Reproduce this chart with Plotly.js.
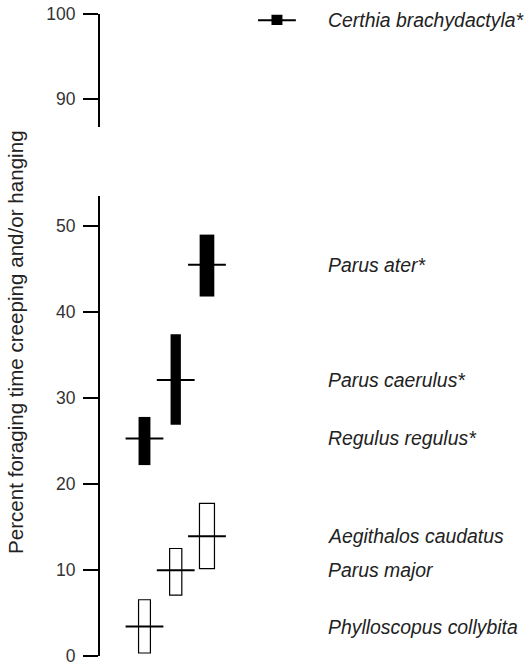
<!DOCTYPE html>
<html>
<head>
<meta charset="utf-8">
<script src="https://cdn.plot.ly/plotly-3.0.1.min.js"></script>
<style>html,body{margin:0;padding:0;background:#fff;}#chart{width:525px;height:663px;}</style>
</head>
<body>
<div id="chart"></div>
<script>
// ---- data ----
const species = ['Phylloscopus collybita', 'Parus major', 'Aegithalos caudatus',
                 'Regulus regulus*', 'Parus caerulus*', 'Parus ater*', 'Certhia brachydactyla*'];
const column  = [1, 2, 3, 1, 2, 3, 5.24];
const lowVal  = [0.35, 7.08, 10.15, 22.2, 26.9, 41.8, 98.7];
const highVal = [6.54, 12.5, 17.75, 27.8, 37.4, 49.0, 99.9];
const meanVal = [3.43, 9.97, 13.93, 25.3, 32.1, 45.5, 99.25];
const significant = [false, false, false, true, true, true, true];
const lowerTicks = [0, 10, 20, 30, 40, 50];
const upperTicks = [90, 100];

// ---- build traces ----
const barWidths = [0.38, 0.39, 0.48, 0.38, 0.33, 0.47, 0.35];
const traces = [];
const openIdx = [], fillIdx = [], upIdx = [];
species.forEach((s, i) => {
  if (meanVal[i] > 60) upIdx.push(i);
  else if (significant[i]) fillIdx.push(i);
  else openIdx.push(i);
});
function barTrace(idx, filled, yaxis) {
  return {
    type: 'bar',
    x: idx.map(i => column[i]),
    base: idx.map(i => lowVal[i]),
    y: idx.map(i => highVal[i] - lowVal[i]),
    width: idx.map(i => barWidths[i]),
    yaxis: yaxis,
    marker: {color: filled ? '#000' : '#fff', line: {color: '#000', width: filled ? 0 : 1.2}},
    hoverinfo: 'skip'
  };
}
function meanTrace(idx, yaxis) {
  return {
    type: 'scatter', mode: 'markers',
    x: idx.map(i => column[i]),
    y: idx.map(i => meanVal[i]),
    yaxis: yaxis,
    marker: {symbol: 'line-ew', size: 27, color: '#000', line: {color: '#000', width: 2}},
    hoverinfo: 'skip'
  };
}
traces.push(barTrace(openIdx, false, 'y'));
traces.push(barTrace(fillIdx, true, 'y'));
traces.push(barTrace(upIdx, true, 'y2'));
traces.push(meanTrace(openIdx.concat(fillIdx), 'y'));
traces.push(meanTrace(upIdx, 'y2'));

const fontFam = '"Liberation Sans", Arial, Helvetica, sans-serif';
const annotations = species.map((s, i) => ({
  x: 6.8, xref: 'x',
  y: meanVal[i], yref: meanVal[i] > 60 ? 'y2' : 'y',
  text: '<i>' + s + '</i>', showarrow: false,
  xanchor: 'left', yanchor: 'middle',
  font: {family: fontFam, size: 19.4, color: '#222'}
}));
annotations.push({
  text: 'Percent foraging time creeping and/or hanging',
  xref: 'paper', yref: 'paper',
  x: -84 / 425, y: (656 - 342) / 646,
  textangle: -90, showarrow: false,
  xanchor: 'center', yanchor: 'middle',
  font: {family: fontFam, size: 20.6, color: '#222'}
});

const axCommon = {
  showline: true, linecolor: '#000', linewidth: 2,
  ticks: 'outside', ticklen: 15, tickwidth: 2, tickcolor: '#000',
  showgrid: false, zeroline: false, tickmode: 'array',
  tickfont: {family: fontFam, size: 17.5, color: '#333'},
  ticklabelstandoff: 4,
  ticklabeloverflow: 'allow',
  fixedrange: true
};

const layout = {
  width: 525, height: 663,
  margin: {l: 100, r: 0, t: 10, b: 7},
  paper_bgcolor: '#fff', plot_bgcolor: '#fff',
  showlegend: false, barmode: 'overlay',
  xaxis: {range: [-0.424, 13.18], visible: false, fixedrange: true},
  yaxis: Object.assign({}, axCommon, {domain: [0, (656 - 196) / 646], range: [0, 53.49], tickvals: lowerTicks}),
  yaxis2: Object.assign({}, axCommon, {domain: [(656 - 126.7) / 646, (656 - 14) / 646], range: [86.74, 100], tickvals: upperTicks}),
  annotations: annotations
};

Plotly.newPlot('chart', traces, layout, {staticPlot: true});
</script>
</body>
</html>
